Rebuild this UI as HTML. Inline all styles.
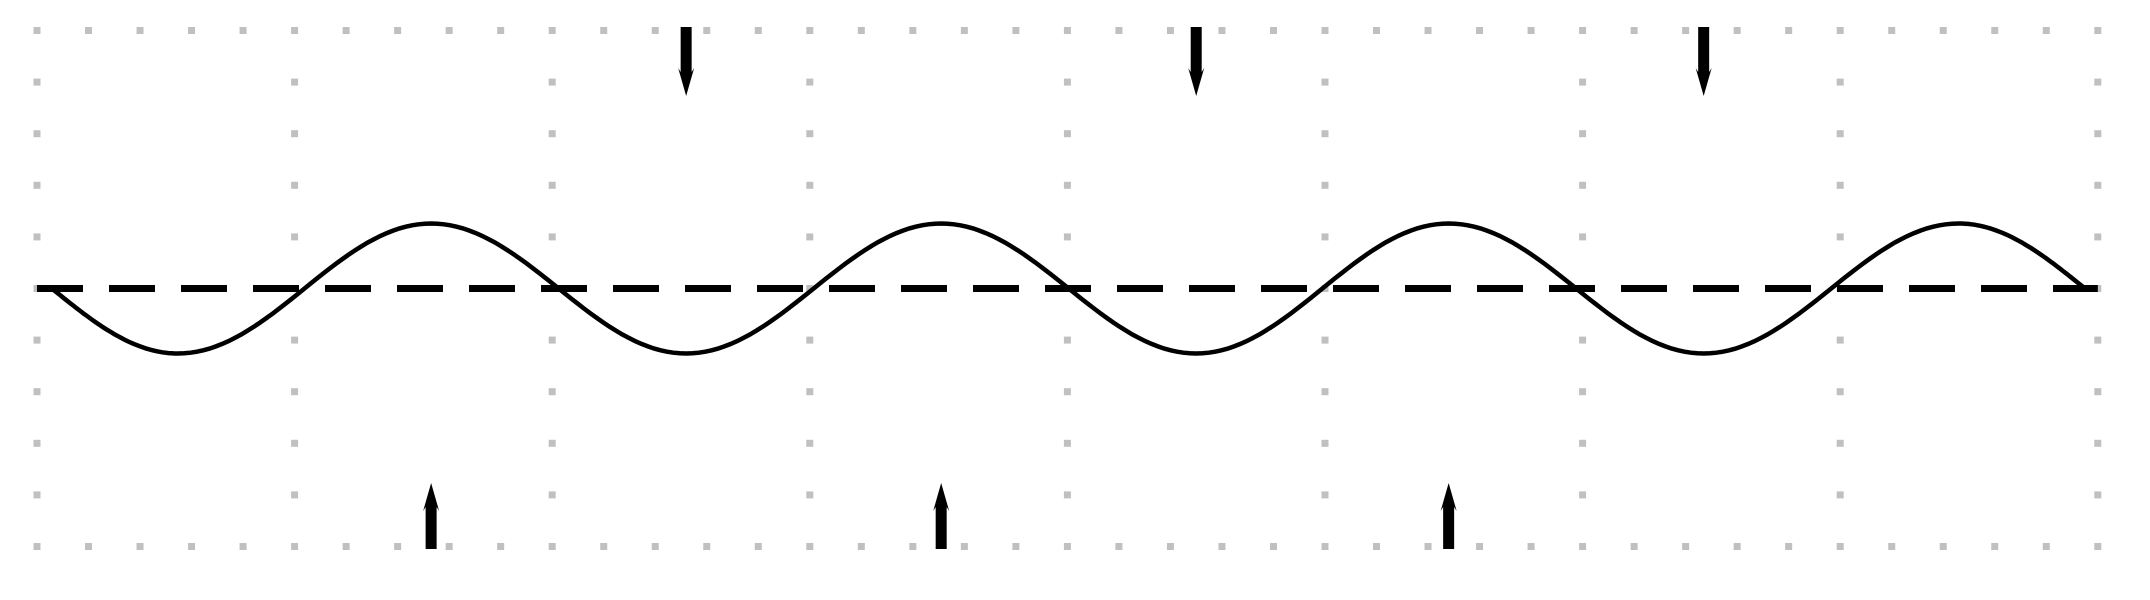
<!DOCTYPE html>
<html><head><meta charset="utf-8"><style>
html,body{margin:0;padding:0;background:#fff;width:2150px;height:600px;overflow:hidden}
svg{display:block}
</style></head><body>
<svg id="chart" width="2150" height="600" viewBox="0 0 2150 600" xmlns="http://www.w3.org/2000/svg">
<g id="grid"></g>
<line id="axis" stroke="#000" stroke-width="7" stroke-dasharray="46 26"></line>
<path id="wave" fill="none" stroke="#000" stroke-width="4.5"></path>
<g id="arrows"></g>
</svg>
<script>
// data
const waveKeyX = [0.058, 0.547, 1.53, 2.52, 3.51, 4.50, 5.48, 6.47, 7.46, 7.95];
const waveKeyY = [0, -1.26, 1.26, -1.26, 1.26, -1.26, 1.26, -1.26, 1.26, 0];
const downArrowX = [2.52, 4.50, 6.47];
const upArrowX = [1.53, 3.51, 5.48];
const gridCols = [0,1,2,3,4,5,6,7,8];
const gridRows = [5,4,3,2,1,0,-1,-2,-3,-4,-5];
const edgeDotX = [0,0.2,0.4,0.6,0.8,1,1.2,1.4,1.6,1.8,2,2.2,2.4,2.6,2.8,3,3.2,3.4,3.6,3.8,4,4.2,4.4,4.6,4.8,5,5.2,5.4,5.6,5.8,6,6.2,6.4,6.6,6.8,7,7.2,7.4,7.6,7.8,8];

const NS = 'http://www.w3.org/2000/svg';
const X = v => 37 + v * 257.6;
const Y = v => 288.5 - v * 51.6;

const grid = document.getElementById('grid');
function dot(xv, yv){
  const r = document.createElementNS(NS,'rect');
  r.setAttribute('x', X(xv)-3.5); r.setAttribute('y', Y(yv)-3.5);
  r.setAttribute('width', 7); r.setAttribute('height', 7);
  r.setAttribute('fill', '#c0c0c0');
  
  
  grid.appendChild(r);
}
gridRows.forEach(rv => {
  if (rv === 5 || rv === -5) edgeDotX.forEach(xv => dot(xv, rv));
  else gridCols.forEach(cv => dot(cv, rv));
});

const axis = document.getElementById('axis');
axis.setAttribute('x1', X(0)); axis.setAttribute('x2', X(8));
axis.setAttribute('y1', Y(0)); axis.setAttribute('y2', Y(0));

let d = '';
for (let i = 0; i < waveKeyX.length - 1; i++) {
  const x0 = waveKeyX[i], x1 = waveKeyX[i+1], y0 = waveKeyY[i], y1 = waveKeyY[i+1];
  const n = 40;
  for (let k = (i === 0 ? 0 : 1); k <= n; k++) {
    const t = k / n;
    let y;
    if (y0 === 0) y = y1 * Math.sin(Math.PI/2 * t);
    else if (y1 === 0) y = y0 * Math.cos(Math.PI/2 * t);
    else y = y0 + (y1 - y0) * (1 - Math.cos(Math.PI * t)) / 2;
    const x = x0 + (x1 - x0) * t;
    d += (d ? 'L' : 'M') + X(x).toFixed(1) + ',' + Y(y).toFixed(1);
  }
}
document.getElementById('wave').setAttribute('d', d);

const arrows = document.getElementById('arrows');
function arrow(xv, down) {
  const cx = X(xv);
  const p = document.createElementNS(NS, 'path');
  let pts;
  if (down) {
    const top = 27, bot = 96;
    pts = `M${cx-5.5},${top}L${cx+5.5},${top}L${cx+5.5},${bot-24}L${cx+8},${bot-28}L${cx},${bot}L${cx-8},${bot-28}L${cx-5.5},${bot-24}Z`;
  } else {
    const top = 483, bot = 549;
    pts = `M${cx-5.5},${bot}L${cx+5.5},${bot}L${cx+5.5},${top+24}L${cx+8},${top+28}L${cx},${top}L${cx-8},${top+28}L${cx-5.5},${top+24}Z`;
  }
  p.setAttribute('d', pts);
  p.setAttribute('fill', '#000');
  
  
  arrows.appendChild(p);
}
downArrowX.forEach(v => arrow(v, true));
upArrowX.forEach(v => arrow(v, false));
</script>
</body></html>
